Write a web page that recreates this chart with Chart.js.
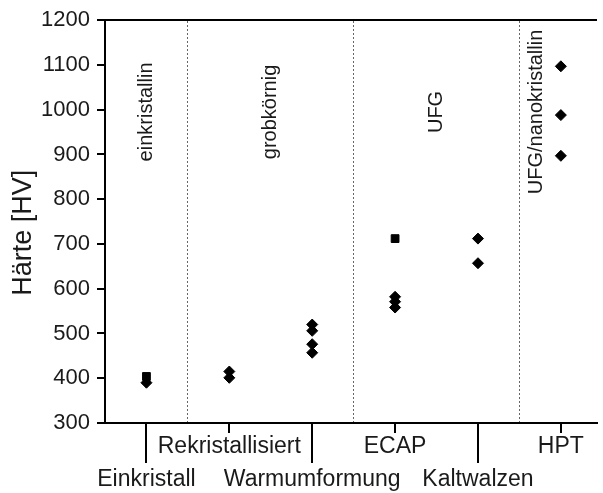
<!DOCTYPE html>
<html>
<head>
<meta charset="utf-8">
<script src="https://cdn.jsdelivr.net/npm/chart.js@4/dist/chart.umd.min.js"></script>
<style>
  body { margin: 0; background: #fff; }
</style>
</head>
<body>
<canvas id="chart" width="603" height="493"></canvas>
<script>
/* --------------- Data --------------------- */
const categories = ["Einkristall", "Rekristallisiert", "Warmumformung", "ECAP", "Kaltwalzen", "HPT"];
// diamonds per category
const diamondValues = [[390], [415, 401], [520, 506, 476, 457], [582, 571, 558], [712, 657], [1097, 988, 897]];
// squares per category
const squareValues = [[404], [], [], [712], [], []];
const yTicks = [300, 400, 500, 600, 700, 800, 900, 1000, 1100, 1200];
const dividers = [1.5, 3.5, 5.5];
const regionLabels = ["einkristallin", "grobkörnig", "UFG", "UFG/nanokristallin"];
const regionX = [1, 2.5, 4.5, 5.7];
const regionY = 995;

const toPoints = (vals) => vals.flatMap((list, i) => list.map((v) => ({ x: i + 1, y: v })));

/* --------------- Region labels (vertical text) --------------------- */
const regionPlugin = {
  id: "regionText",
  afterDraw(chart) {
    const { ctx, scales } = chart;
    ctx.save();
    ctx.fillStyle = "#1a1a1a";
    ctx.font = "20px 'Liberation Sans', Arial, sans-serif";
    ctx.textAlign = "center";
    ctx.textBaseline = "middle";
    regionLabels.forEach((label, i) => {
      ctx.save();
      ctx.translate(scales.x.getPixelForValue(regionX[i]), scales.y.getPixelForValue(regionY));
      ctx.rotate(-Math.PI / 2);
      ctx.fillText(label, 0, 0);
      ctx.restore();
    });
    ctx.restore();
  },
};

/* --------------- Chart --------------------- */
const font = "'Liberation Sans', Arial, sans-serif";
new Chart(document.getElementById("chart"), {
  type: "scatter",
  data: {
    datasets: [
      {
        data: toPoints(diamondValues),
        pointStyle: "rectRot",
        pointRadius: 5.5,
        backgroundColor: "#000",
        borderColor: "#000",
        borderWidth: 1,
      },
      {
        data: toPoints(squareValues),
        pointStyle: "rect",
        pointRadius: 5.5,
        backgroundColor: "#000",
        borderColor: "#000",
        borderWidth: 1,
      },
    ],
  },
  plugins: [regionPlugin],
  options: {
    responsive: false,
    animation: false,
    layout: { padding: 0 },
    plugins: { legend: { display: false }, tooltip: { enabled: false } },
    scales: {
      x: {
        type: "linear",
        position: "bottom",
        min: 0.5,
        max: 6.43,
        afterBuildTicks: (s) => { s.ticks = categories.map((_, i) => ({ value: i + 1 })); },
        afterFit: (s) => { s.height = 70; },
        grid: {
          drawOnChartArea: false,
          color: "#000",
          lineWidth: 2,
          tickLength: 40,
          tickBorderDash: (c) => (c.index % 2 ? [9, 200] : []),
        },
        border: { color: "#000", width: 2 },
        ticks: {
          autoSkip: false,
          maxRotation: 0,
          minRotation: 0,
          padding: -32,
          color: "#1a1a1a",
          font: { family: font, size: 23, lineHeight: 1.4 },
          callback: (v, i) => (i % 2 ? [categories[i]] : ["", categories[i]]),
        },
      },
      xTop: {
        type: "linear",
        position: "top",
        min: 0.5,
        max: 6.43,
        afterBuildTicks: (s) => { s.ticks = dividers.map((v) => ({ value: v })); },
        afterFit: (s) => { s.height = 16; },
        grid: { color: "#666", lineWidth: 1, drawTicks: false },
        border: { color: "#000", width: 2, dash: [2, 2] },
        ticks: { display: false },
      },
      y: {
        min: 300,
        max: 1200,
        afterBuildTicks: (s) => { s.ticks = yTicks.map((v) => ({ value: v })); },
        afterFit: (s) => { s.width = 105; },
        grid: { drawOnChartArea: false, color: "#000", lineWidth: 2, tickLength: 8 },
        border: { color: "#000", width: 2 },
        ticks: {
          padding: 7,
          color: "#1a1a1a",
          font: { family: font, size: 22 },
          callback: (v) => String(v),
        },
        title: {
          display: true,
          text: "Härte [HV]   ",
          color: "#1a1a1a",
          font: { family: font, size: 27 },
          padding: { top: 7, bottom: 0 },
        },
      },
    },
  },
});
</script>
</body>
</html>
